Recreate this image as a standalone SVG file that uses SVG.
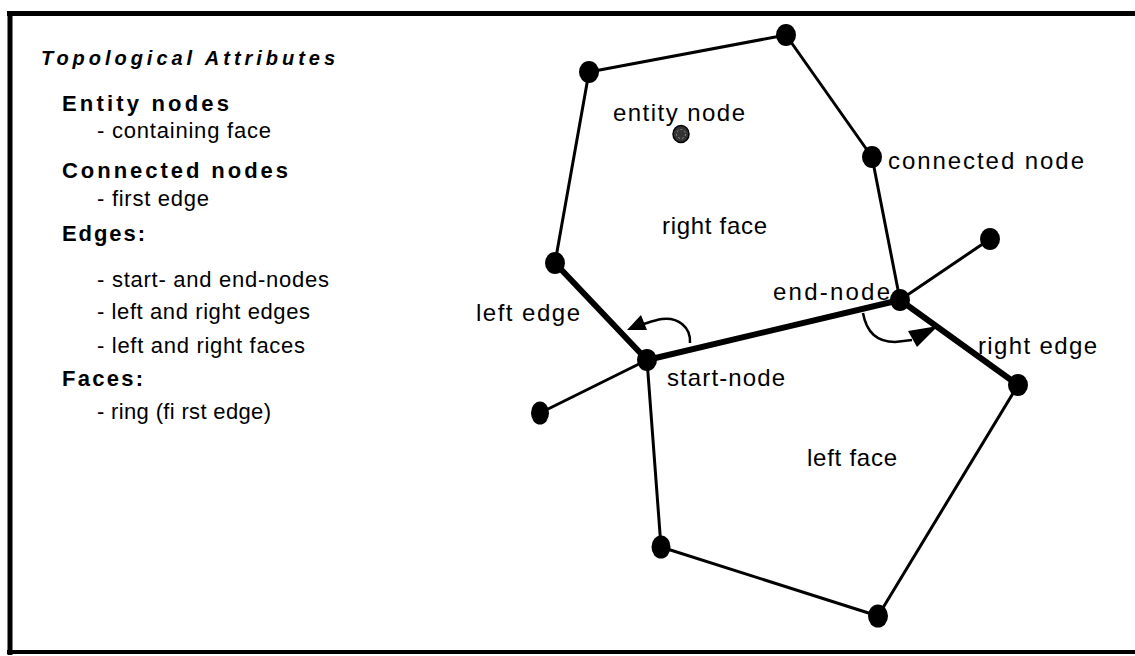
<svg xmlns="http://www.w3.org/2000/svg" width="1135" height="656" viewBox="0 0 1135 656">
<style>
.t{font-family:"Liberation Sans",Arial,sans-serif;fill:#000;font-size:22px}
.h{font-family:"Liberation Sans",Arial,sans-serif;fill:#000;font-size:22px;font-weight:bold}
.ti{font-family:"Liberation Sans",Arial,sans-serif;fill:#000;font-size:20px;font-weight:bold;font-style:italic}
.lb{font-family:"Liberation Sans",Arial,sans-serif;fill:#000;font-size:24px}
.thin{stroke:#000;stroke-width:3;fill:none;stroke-linecap:round}
.thick{stroke:#000;stroke-width:6;fill:none;stroke-linecap:round}
.node{fill:#000}
.arc{stroke:#000;stroke-width:2.5;fill:none}
</style>
<rect x="0" y="0" width="1135" height="656" fill="#fff"/>
<g id="frame" stroke="#000" fill="none">
<line x1="7" y1="13.5" x2="1135" y2="13.5" stroke-width="5"/>
<line x1="10" y1="11" x2="10" y2="655" stroke-width="5"/>
<line x1="7" y1="652" x2="1135" y2="652" stroke-width="4"/>
</g>
<g id="legend">
<text class="ti" x="41" y="65" textLength="294" lengthAdjust="spacing">Topological Attributes</text>
<text class="h" x="62" y="111" textLength="167" lengthAdjust="spacing">Entity nodes</text>
<text class="t" x="97" y="138" textLength="174" lengthAdjust="spacing">- containing face</text>
<text class="h" x="62" y="178" textLength="226" lengthAdjust="spacing">Connected nodes</text>
<text class="t" x="97" y="206" textLength="112" lengthAdjust="spacing">- first edge</text>
<text class="h" x="62" y="241" textLength="83" lengthAdjust="spacing">Edges:</text>
<text class="t" x="97" y="287" textLength="232" lengthAdjust="spacing">- start- and end-nodes</text>
<text class="t" x="97" y="319" textLength="213" lengthAdjust="spacing">- left and right edges</text>
<text class="t" x="97" y="353" textLength="208" lengthAdjust="spacing">- left and right faces</text>
<text class="h" x="62" y="386" textLength="81" lengthAdjust="spacing">Faces:</text>
<text class="t" x="97" y="419" textLength="174" lengthAdjust="spacing">- ring (fi rst edge)</text>
</g>
<g id="connectors">
<line class="thin" x1="589" y1="72" x2="786" y2="35"/>
<line class="thin" x1="786" y1="35" x2="872" y2="157"/>
<line class="thin" x1="872" y1="157" x2="900" y2="300"/>
<line class="thin" x1="589" y1="72" x2="555" y2="263"/>
<line class="thick" x1="555" y1="263" x2="647" y2="360"/>
<line class="thick" x1="647" y1="360" x2="900" y2="300"/>
<line class="thin" x1="900" y1="300" x2="990" y2="239"/>
<line class="thick" x1="900" y1="300" x2="1018" y2="385"/>
<line class="thin" x1="647" y1="360" x2="540" y2="413"/>
<line class="thin" x1="647" y1="360" x2="661" y2="547"/>
<line class="thin" x1="661" y1="547" x2="878" y2="616"/>
<line class="thin" x1="878" y1="616" x2="1018" y2="385"/>
<path class="arc" d="M690,343 C691,327 678,317 662,319 C655,320 650,322 644,324"/>
<polygon points="627,330 641,315 647,330" fill="#000"/>
<path class="arc" d="M863,313 C866,330 875,342 895,342 L912,340"/>
<polygon points="938,326 908,331 917,347" fill="#000"/>
</g>
<g id="node-a"><ellipse class="node" cx="589" cy="72" rx="10" ry="11"/></g>
<g id="node-b"><ellipse class="node" cx="786" cy="35" rx="10" ry="11"/></g>
<g id="node-connected"><ellipse class="node" cx="872" cy="157" rx="10" ry="11"/><text class="lb" x="888" y="169" textLength="196" lengthAdjust="spacing">connected node</text></g>
<g id="node-end"><ellipse class="node" cx="900" cy="300" rx="10" ry="11"/><text class="lb" x="773" y="300" textLength="117" lengthAdjust="spacing">end-node</text></g>
<g id="node-e"><ellipse class="node" cx="555" cy="263" rx="10" ry="11"/></g>
<g id="node-start"><ellipse class="node" cx="647" cy="360" rx="10" ry="11"/><text class="lb" x="667" y="386" textLength="118" lengthAdjust="spacing">start-node</text></g>
<g id="node-g"><ellipse class="node" cx="990" cy="239" rx="10" ry="11"/></g>
<g id="node-h"><ellipse class="node" cx="1018" cy="385" rx="10" ry="11"/></g>
<g id="node-i"><ellipse class="node" cx="540" cy="413" rx="9" ry="11.5"/></g>
<g id="node-j"><ellipse class="node" cx="661" cy="547" rx="9.5" ry="11.5"/></g>
<g id="node-k"><ellipse class="node" cx="878" cy="616" rx="10" ry="11.5"/></g>
<g id="node-entity"><ellipse cx="681" cy="134" rx="8" ry="8.5" fill="#333" stroke="#000" stroke-width="1.5"/><circle cx="681" cy="134" r="4.5" fill="none" stroke="#888" stroke-width="1" stroke-dasharray="2 2"/><text class="lb" x="613" y="121" textLength="132" lengthAdjust="spacing">entity node</text></g>
<g id="labels">
<text class="lb" x="662" y="234" textLength="105" lengthAdjust="spacing">right face</text>
<text class="lb" x="476" y="321" textLength="104" lengthAdjust="spacing">left edge</text>
<text class="lb" x="978" y="354" textLength="119" lengthAdjust="spacing">right edge</text>
<text class="lb" x="807" y="466" textLength="90" lengthAdjust="spacing">left face</text>
</g>
</svg>
